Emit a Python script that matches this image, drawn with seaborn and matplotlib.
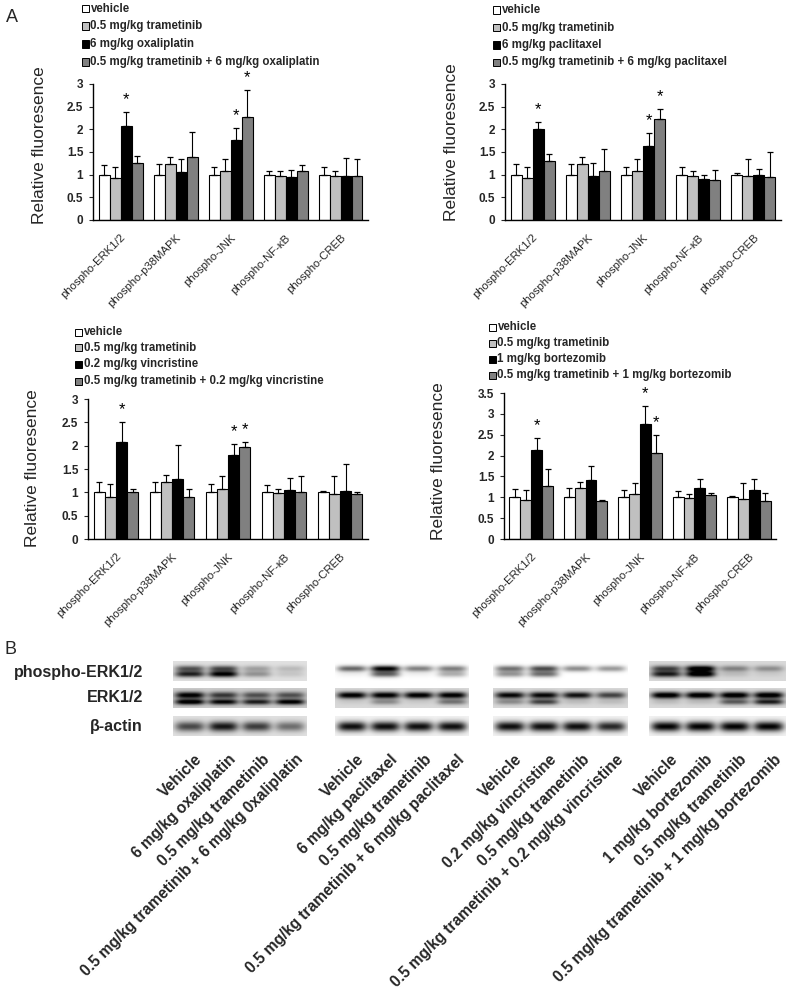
import numpy as np
import pandas as pd
import matplotlib
matplotlib.use("Agg")
import matplotlib.pyplot as plt
import seaborn as sns
from matplotlib.patches import Rectangle

# ---------------- data ----------------
proteins = ["phospho-ERK1/2", "phospho-p38MAPK", "phospho-JNK", "phospho-NF-κB", "phospho-CREB"]

oxa_labels = ["vehicle", "0.5 mg/kg trametinib", "6 mg/kg oxaliplatin",
              "0.5 mg/kg trametinib + 6 mg/kg oxaliplatin"]
oxa_vehicle = [1.00, 1.00, 1.00, 1.00, 1.00]
oxa_tram = [0.92, 1.23, 1.08, 0.96, 0.96]
oxa_drug = [2.07, 1.05, 1.77, 0.94, 0.96]
oxa_combo = [1.25, 1.39, 2.27, 1.08, 0.98]
oxa_vehicle_err = [0.22, 0.23, 0.18, 0.09, 0.16]
oxa_tram_err = [0.25, 0.15, 0.26, 0.12, 0.12]
oxa_drug_err = [0.31, 0.29, 0.27, 0.16, 0.40]
oxa_combo_err = [0.16, 0.55, 0.60, 0.14, 0.36]

pac_labels = ["vehicle", "0.5 mg/kg trametinib", "6 mg/kg paclitaxel",
              "0.5 mg/kg trametinib + 6 mg/kg paclitaxel"]
pac_vehicle = [1.00, 1.00, 1.00, 1.00, 1.00]
pac_tram = [0.92, 1.24, 1.07, 0.96, 0.96]
pac_drug = [2.01, 0.96, 1.64, 0.91, 0.99]
pac_combo = [1.31, 1.07, 2.22, 0.88, 0.94]
pac_vehicle_err = [0.24, 0.24, 0.18, 0.16, 0.04]
pac_tram_err = [0.26, 0.15, 0.27, 0.13, 0.38]
pac_drug_err = [0.15, 0.29, 0.29, 0.08, 0.13]
pac_combo_err = [0.15, 0.49, 0.23, 0.22, 0.56]

vin_labels = ["vehicle", "0.5 mg/kg trametinib", "0.2 mg/kg vincristine",
              "0.5 mg/kg trametinib + 0.2 mg/kg vincristine"]
vin_vehicle = [1.00, 1.00, 1.00, 1.00, 1.00]
vin_tram = [0.91, 1.22, 1.07, 0.98, 0.96]
vin_drug = [2.07, 1.28, 1.79, 1.05, 1.02]
vin_combo = [1.00, 0.89, 1.98, 1.00, 0.96]
vin_vehicle_err = [0.22, 0.23, 0.18, 0.16, 0.02]
vin_tram_err = [0.27, 0.16, 0.27, 0.09, 0.39]
vin_drug_err = [0.43, 0.73, 0.25, 0.25, 0.58]
vin_combo_err = [0.07, 0.18, 0.09, 0.36, 0.04]

bor_labels = ["vehicle", "0.5 mg/kg trametinib", "1 mg/kg bortezomib",
              "0.5 mg/kg trametinib + 1 mg/kg bortezomib"]
bor_vehicle = [1.00, 1.00, 1.00, 1.00, 1.00]
bor_tram = [0.94, 1.22, 1.07, 0.98, 0.96]
bor_drug = [2.14, 1.41, 2.76, 1.22, 1.18]
bor_combo = [1.27, 0.90, 2.05, 1.06, 0.92]
bor_vehicle_err = [0.21, 0.23, 0.18, 0.16, 0.03]
bor_tram_err = [0.23, 0.15, 0.27, 0.10, 0.38]
bor_drug_err = [0.29, 0.35, 0.43, 0.22, 0.27]
bor_combo_err = [0.42, 0.04, 0.44, 0.05, 0.18]

# significant bars: (protein index, treatment index)
stars = [(0, 2), (2, 2), (2, 3)]

y_ticks_3 = [0, 0.5, 1, 1.5, 2, 2.5, 3]
y_ticks_35 = [0, 0.5, 1, 1.5, 2, 2.5, 3, 3.5]

# western blot: band darkness (0 = none, 1 = black) per lane
lane_labels_oxa = ["Vehicle", "6 mg/kg oxaliplatin", "0.5 mg/kg trametinib",
                   "0.5 mg/kg trametinib + 6 mg/kg 0xaliplatin"]
lane_labels_pac = ["Vehicle", "6 mg/kg paclitaxel", "0.5 mg/kg trametinib",
                   "0.5 mg/kg trametinib + 6 mg/kg paclitaxel"]
lane_labels_vin = ["Vehicle", "0.2 mg/kg vincristine", "0.5 mg/kg trametinib",
                   "0.5 mg/kg trametinib + 0.2 mg/kg vincristine"]
lane_labels_bor = ["Vehicle", "1 mg/kg bortezomib", "0.5 mg/kg trametinib",
                   "0.5 mg/kg trametinib + 1 mg/kg bortezomib"]
blot_rows = ["phospho-ERK1/2", "ERK1/2", "β-actin"]

oxa_perk_upper = [0.55, 0.60, 0.25, 0.15]
oxa_perk_lower = [0.75, 0.90, 0.30, 0.10]
oxa_erk_upper = [0.85, 0.60, 0.50, 0.50]
oxa_erk_lower = [0.90, 0.80, 0.70, 0.85]
oxa_actin = [0.60, 0.80, 0.65, 0.45]
oxa_background = [0.12, 0.20, 0.12]

pac_perk_upper = [0.60, 1.00, 0.50, 0.50]
pac_perk_lower = [0.05, 0.60, 0.05, 0.30]
pac_erk_upper = [0.90, 0.90, 0.90, 0.90]
pac_erk_lower = [0.05, 0.30, 0.05, 0.40]
pac_actin = [0.90, 0.90, 0.90, 0.90]
pac_background = [0.0, 0.15, 0.05]

vin_perk_upper = [0.55, 0.70, 0.45, 0.40]
vin_perk_lower = [0.40, 0.55, 0.0, 0.0]
vin_erk_upper = [0.85, 0.85, 0.80, 0.60]
vin_erk_lower = [0.30, 0.60, 0.10, 0.10]
vin_actin = [0.90, 0.90, 0.90, 0.80]
vin_background = [0.0, 0.15, 0.05]

bor_perk_upper = [0.60, 0.95, 0.35, 0.30]
bor_perk_lower = [0.75, 0.95, 0.10, 0.05]
bor_erk_upper = [0.95, 0.95, 0.95, 0.95]
bor_erk_lower = [0.10, 0.10, 0.50, 0.75]
bor_actin = [0.95, 0.95, 0.95, 0.95]
bor_background = [0.15, 0.15, 0.05]

# ---------------- style ----------------
sns.set_theme(style="white")
plt.rcParams["font.family"] = ["Liberation Sans", "DejaVu Sans"]

W, H = 786, 1000
fig = plt.figure(figsize=(W / 100, H / 100), dpi=100)
fig.patch.set_facecolor("white")


def px_axes(l, t, r, b):
    return fig.add_axes([l / W, 1 - b / H, (r - l) / W, (b - t) / H])


palette = ["#ffffff", "#c0c0c0", "#000000", "#808080"]


def bar_panel(rect, labels, series, errs, yticks, leg_x, leg_ys, ylab_xy):
    ax = px_axes(*rect)
    rows = []
    for ti, (vals, es) in enumerate(zip(series, errs)):
        for pi, p in enumerate(proteins):
            rows.append({"protein": p, "treatment": labels[ti], "value": vals[pi], "err": es[pi]})
    df = pd.DataFrame(rows)
    sns.barplot(data=df, x="protein", y="value", hue="treatment", order=proteins,
                hue_order=labels, palette=palette, edgecolor="black", linewidth=0.8,
                width=0.8, errorbar=None, legend=False, ax=ax, saturation=1)
    bar_conts = list(ax.containers)
    for ti, cont in enumerate(bar_conts):
        xs = [p.get_x() + p.get_width() / 2 for p in cont]
        hs = [p.get_height() for p in cont]
        es = errs[ti]
        ax.errorbar(xs, hs, yerr=[np.zeros(len(es)), es], fmt="none", ecolor="black",
                    elinewidth=0.8, capsize=2.2, capthick=0.9, zorder=1)
        for (pi, tj) in stars:
            if tj == ti:
                ax.annotate("*", xy=(xs[pi], hs[pi] + es[pi]), xytext=(0, 3.5),
                            textcoords="offset points", ha="center", va="bottom",
                            fontsize=12, color="black")
    ax.set_xlim(-0.5, 4.5)
    ax.set_ylim(0, yticks[-1])
    ax.set_yticks(yticks)
    ax.set_yticklabels([f"{t:g}" for t in yticks], fontsize=8.5, fontweight="bold")
    ax.set_xticks(range(len(proteins)))
    ax.set_xticklabels(proteins, rotation=45, ha="right", va="top",
                       rotation_mode="anchor", fontsize=8.2)
    ax.tick_params(axis="x", length=0, pad=9)
    ax.tick_params(axis="y", length=3, width=0.8, direction="out", left=True, pad=4)
    ax.set_xlabel("")
    ax.set_ylabel("")
    for s in ["top", "right"]:
        ax.spines[s].set_visible(False)
    for s in ["left", "bottom"]:
        ax.spines[s].set_color("black")
        ax.spines[s].set_linewidth(1.0)
    ax.set_facecolor("white")
    # legend
    for i, lab in enumerate(labels):
        y = leg_ys[i]
        fig.add_artist(Rectangle((leg_x / W, 1 - (y + 3.5) / H), 7 / W, 7 / H,
                                 transform=fig.transFigure, facecolor=palette[i],
                                 edgecolor="black", linewidth=0.7))
        fig.text((leg_x + 8.5) / W, 1 - y / H, lab, fontsize=8.3, fontweight="bold",
                 va="center", ha="left")
    fig.text(ylab_xy[0] / W, 1 - ylab_xy[1] / H, "Relative fluoresence", rotation=90,
             fontsize=12.5, va="center", ha="center")
    return ax


bar_panel((93, 84, 368, 220), oxa_labels,
          [oxa_vehicle, oxa_tram, oxa_drug, oxa_combo],
          [oxa_vehicle_err, oxa_tram_err, oxa_drug_err, oxa_combo_err],
          y_ticks_3, 82, [8.5, 26, 44, 62], (40, 145))
bar_panel((505, 84, 781, 220), pac_labels,
          [pac_vehicle, pac_tram, pac_drug, pac_combo],
          [pac_vehicle_err, pac_tram_err, pac_drug_err, pac_combo_err],
          y_ticks_3, 493, [10, 27.5, 45, 62.5], (451, 142))
bar_panel((88, 399, 368, 539), vin_labels,
          [vin_vehicle, vin_tram, vin_drug, vin_combo],
          [vin_vehicle_err, vin_tram_err, vin_drug_err, vin_combo_err],
          y_ticks_3, 75, [332, 348, 364.5, 381], (33, 468))
bar_panel((504, 393, 776, 539), bor_labels,
          [bor_vehicle, bor_tram, bor_drug, bor_combo],
          [bor_vehicle_err, bor_tram_err, bor_drug_err, bor_combo_err],
          y_ticks_35, 489, [327, 343, 359, 375], (438, 461))

fig.text(12 / W, 1 - 17 / H, "A", fontsize=13, va="center", ha="center")
fig.text(10 / W, 1 - 650 / H, "B", fontsize=13, va="center", ha="center")

# ---------------- western blot ----------------
strip_x = [(173, 307), (335, 469), (493, 628), (649, 786)]
row_y = [(661, 681), (688, 708), (716, 736)]
row_label_y = [673, 698, 727]

blots = [
    ([oxa_perk_upper, oxa_perk_lower], [oxa_erk_upper, oxa_erk_lower], [oxa_actin], oxa_background, lane_labels_oxa),
    ([pac_perk_upper, pac_perk_lower], [pac_erk_upper, pac_erk_lower], [pac_actin], pac_background, lane_labels_pac),
    ([vin_perk_upper, vin_perk_lower], [vin_erk_upper, vin_erk_lower], [vin_actin], vin_background, lane_labels_vin),
    ([bor_perk_upper, bor_perk_lower], [bor_erk_upper, bor_erk_lower], [bor_actin], bor_background, lane_labels_bor),
]
band_pos = [[0.38, 0.66], [0.36, 0.70], [0.55]]
band_sig = [[0.11, 0.11], [0.12, 0.10], [0.17]]

nx, ny = 240, 60
xx = np.linspace(0, 1, nx)[None, :]
yy = np.linspace(0, 1, ny)[:, None]

for si, (perk, erk, actin, bg, lane_labels) in enumerate(blots):
    l, r = strip_x[si]
    for ri, bands in enumerate([perk, erk, actin]):
        t, b = row_y[ri]
        ax = px_axes(l, t, r, b)
        img = np.full((ny, nx), bg[ri])
        for bi, band in enumerate(bands):
            for li, d in enumerate(band):
                cx = (li + 0.5) / 4
                hx = np.exp(-((xx - cx) / 0.11) ** 4)
                vy = np.exp(-0.5 * ((yy - band_pos[ri][bi]) / band_sig[ri][bi]) ** 2)
                img = img + d * hx * vy
        img = np.clip(img, 0, 1)
        ax.imshow(img, cmap="gray_r", vmin=0, vmax=1.0, aspect="auto",
                  extent=(0, 1, 1, 0), interpolation="bilinear")
        ax.set_axis_off()
    # lane labels
    for li, lab in enumerate(lane_labels):
        cx = l + (li + 0.5) * (r - l) / 4 + 10
        fig.text(cx / W, 1 - 757 / H, lab, rotation=45, rotation_mode="anchor",
                 ha="right", va="center", fontsize=11.2, fontweight="bold")

for name, y in zip(blot_rows, row_label_y):
    fig.text(143 / W, 1 - y / H, name, ha="right", va="center",
             fontsize=11.5, fontweight="bold")

fig.savefig("out.png", dpi=100, facecolor="white")
